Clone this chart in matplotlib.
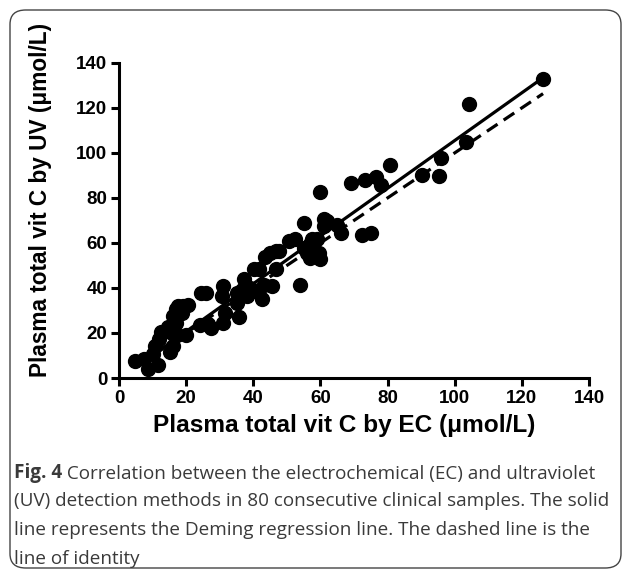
import matplotlib
matplotlib.use('Agg')
import matplotlib.pyplot as plt
from matplotlib.patches import FancyBboxPatch

plt.rcParams['font.family'] = ['Liberation Sans', 'DejaVu Sans']
plt.rcParams['font.weight'] = 'bold'

# plasma total vitamin C, EC vs UV (umol/L)
ec = [4.7, 7.5, 8.5, 10.0, 11.5, 10.7, 12.0, 12.5, 14.0, 14.7,
      15.2, 16.2, 15.7, 16.0, 17.0, 17.6, 19.0, 20.6, 17.0, 18.6,
      17.3, 20.0, 24.4, 25.8, 24.2, 27.4, 26.4, 31.1, 30.6, 31.6,
      31.1, 35.6, 35.1, 35.1, 36.6, 37.1, 38.1, 39.1, 40.1, 41.6,
      40.6, 42.6, 43.1, 43.6, 45.1, 45.6, 46.6, 46.6, 47.6, 50.5,
      52.5, 54.0, 55.0, 55.0, 56.0, 57.0, 57.5, 59.0, 60.0, 61.0,
      61.0, 59.5, 60.0, 57.0, 62.0, 65.0, 66.0, 69.0, 72.4, 74.9,
      73.4, 76.4, 77.9, 80.7, 90.3, 95.3, 95.8, 103.3, 104.3, 126.2]
uv = [7.5, 8.3, 4.0, 10.5, 5.8, 14.0, 17.3, 20.5, 21.0, 22.5,
      11.5, 14.0, 20.0, 27.5, 30.5, 32.0, 32.0, 32.3, 24.5, 28.9,
      19.3, 19.3, 37.8, 37.8, 23.5, 22.0, 24.0, 40.8, 36.3, 28.9,
      24.5, 26.9, 33.4, 37.8, 39.3, 43.8, 36.3, 40.0, 48.2, 48.2,
      38.6, 34.9, 41.5, 53.8, 55.5, 40.8, 48.2, 56.6, 56.6, 60.8,
      61.6, 41.3, 68.9, 57.9, 55.6, 59.3, 61.6, 61.6, 82.8, 70.6,
      67.5, 55.6, 52.7, 53.4, 69.7, 68.0, 64.3, 86.8, 63.6, 64.6,
      88.0, 89.5, 85.8, 94.7, 90.2, 89.8, 97.6, 105.0, 121.8, 132.8]

# Deming fit and identity line
deming_slope, deming_int = 1.06, -0.5
line_x = [5, 126.3]
ident_x = [10, 126.3]

ticks = [0, 20, 40, 60, 80, 100, 120, 140]

fig = plt.figure(figsize=(6.3, 5.71), dpi=100)
ax = fig.add_axes([0.189, 0.338, 0.746, 0.552])

ax.plot(line_x, [deming_slope * v + deming_int for v in line_x], color='black', lw=2.3, solid_capstyle='butt')
ax.plot(ident_x, ident_x, color='black', lw=2.3, dashes=(4, 2.3))
ax.plot(ec, uv, 'o', color='black', markersize=10, clip_on=False)

ax.set_xlim(0, 140)
ax.set_ylim(0, 140)
ax.set_xticks(ticks)
ax.set_yticks(ticks)
for s in ['top', 'right']:
    ax.spines[s].set_visible(False)
for s in ['left', 'bottom']:
    ax.spines[s].set_linewidth(2.2)
ax.tick_params(width=2.2, length=5.5, pad=3, labelsize=13.5)

ax.set_xlabel('Plasma total vit C by EC (μmol/L)', fontweight='bold', fontsize=17.6)
ax.set_ylabel('Plasma total vit C by UV (μmol/L)', fontweight='bold', fontsize=16.3)
ax.xaxis.set_label_coords(0.48, -0.115)
ax.yaxis.set_label_coords(-0.142, 0.565)

# caption
cap = dict(fontfamily='Open Sans', fontsize=13.6, color='#3a3a3a')
fig_w, fig_h = 630, 571
x0 = 14 / fig_w
first = fig.text(x0, 1 - 478 / fig_h, 'Fig. 4', fontweight='bold', **cap)
ax.annotate(' Correlation between the electrochemical (EC) and ultraviolet',
            xy=(1, 0), xycoords=first, va='bottom', annotation_clip=False,
            fontweight='normal', **cap)
rest = ['(UV) detection methods in 80 consecutive clinical samples. The solid',
        'line represents the Deming regression line. The dashed line is the',
        'line of identity']
for i, t in enumerate(rest):
    fig.text(x0, 1 - (478 + 28.5 * (i + 1)) / fig_h, t, fontweight='normal', **cap)

box = FancyBboxPatch((10 / fig_w, 3 / fig_h), 611 / fig_w, 558 / fig_h,
                     boxstyle='round,pad=0,rounding_size=0.025', transform=fig.transFigure,
                     facecolor='none', edgecolor='#444444', lw=1.0)
fig.patches.append(box)

plt.savefig('out.png', dpi=100)
